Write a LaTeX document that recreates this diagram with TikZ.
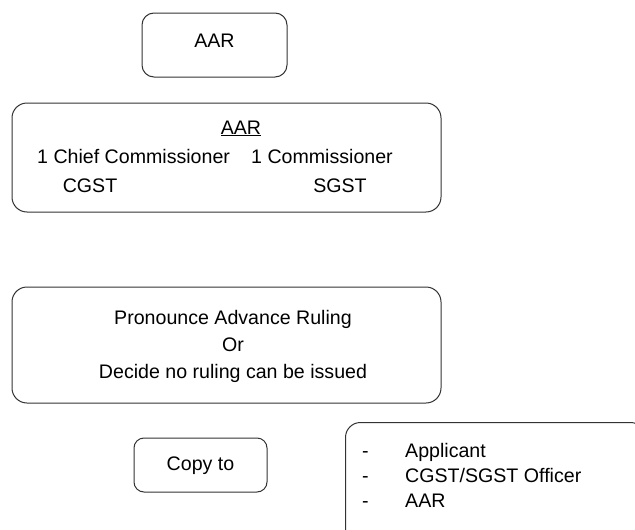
\documentclass[tikz,border=0pt]{standalone}
\usepackage{fontspec}
\setmainfont{Liberation Sans}
\begin{document}
\begin{tikzpicture}[x=1pt,y=-1pt,
  every node/.style={font=\fontsize{19.6}{23.5}\selectfont},
  box/.style={draw=black!80, line width=1pt, rounded corners=#1, inner sep=0pt},
  box/.default=15pt,
  txt/.style={inner sep=0pt, anchor=base},
  txtl/.style={inner sep=0pt, anchor=base west},
  txtr/.style={inner sep=0pt, anchor=base east}]
\useasboundingbox (0,0) rectangle (635,530);
\clip (0,0) rectangle (635,530);

% top box
\node[box=12pt, minimum width=145pt, minimum height=64pt] (top) at (214.5,45) {};
\node[txt] (toplabel) at (214.5,47) {AAR};

% composition of the authority
\node[box, minimum width=429pt, minimum height=109pt] (comp) at (226.5,157.5) {};
\node[txt] (head) at (241,134) {\underline{AAR}};
\node[txtl] (chief) at (37,163) {1 Chief Commissioner};
\node[txtr] (comm) at (393,163) {1 Commissioner};
\node[txt] (cgst) at (90,192) {CGST};
\node[txt] (sgst) at (340,192) {SGST};

% ruling
\node[box, minimum width=429pt, minimum height=116pt] (rule) at (226.5,345) {};
\node[txt] (r1) at (233,324) {Pronounce Advance Ruling};
\node[txt] (r2) at (233,351) {Or};
\node[txt] (r3) at (233,378) {Decide no ruling can be issued};

% copy to
\node[box=10pt, minimum width=133pt, minimum height=54pt] (copy) at (200.5,465) {};
\node[txt] (copylabel) at (200.5,470) {Copy to};

% recipients
\node[box, anchor=north west, minimum width=300pt, minimum height=125pt] (recip) at (345,422) {};
\node[txtl] (d1) at (362,457) {-};
\node[txtl] (d2) at (362,482) {-};
\node[txtl] (d3) at (362,507) {-};
\node[txtl] (l1) at (405,457) {Applicant};
\node[txtl] (l2) at (405,482) {CGST/SGST Officer};
\node[txtl] (l3) at (405,507) {AAR};
\end{tikzpicture}
\end{document}
